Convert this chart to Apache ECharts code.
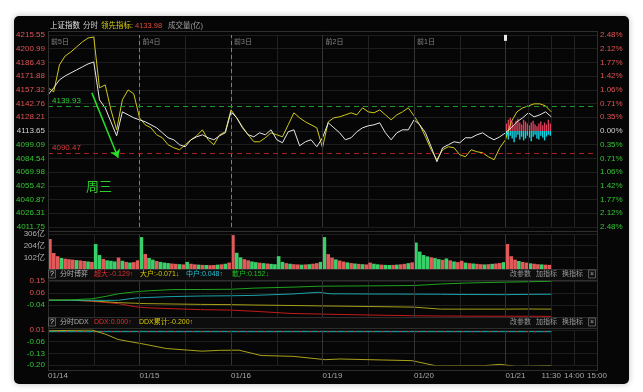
<!DOCTYPE html>
<html><head><meta charset="utf-8">
<script src="https://cdn.jsdelivr.net/npm/echarts@6/dist/echarts.min.js"></script>
<style>html,body{margin:0;padding:0;background:#fff;}#c{width:643px;height:392px;}</style>
</head><body><div id="c"></div>
<script>
// ---------- data ----------
const priceLabels = ['4011.75','4026.31','4040.87','4055.42','4069.98','4084.54','4099.09','4113.65','4128.21','4142.76','4157.32','4171.88','4186.43','4200.99','4215.55'];
const pctLabels = ['2.48%','2.12%','1.77%','1.42%','1.06%','0.71%','0.35%','0.00%','0.35%','0.71%','1.06%','1.42%','1.77%','2.12%','2.48%'];
const priceMin = 4011.75, priceMax = 4215.55, prevClose = 4113.65;
const resistLevel = 4139.93, supportLevel = 4090.47;
const leadNow = '4133.98';
const dayTags = ['前5日','前4日','前3日','前2日','前1日'];
const dateLabels = ['01/14','01/15','01/16','01/19','01/20','01/21'];
const timeLabels = ['11:30','14:00','15:00'];

const mainTimes = [0,15,30,45,60,75,90,105,120,135,150,165,180,195,210,225,
 240,255,270,285,300,315,330,345,360,375,390,405,420,435,450,465,
 480,495,510,525,540,555,570,585,600,615,630,645,660,675,690,705,
 720,735,750,765,780,795,810,825,840,855,870,885,900,915,930,945,
 960,975,990,1005,1020,1035,1050,1065,1080,1095,1110,1125,1140,1155,1170,1185,
 1200,1215,1230,1245,1260,1275,1290,1305,1320];
const priceLine = [
 4152.00,4159.41,4167.89,4172.12,4175.30,4178.48,4181.66,4184.83,4186.95,4146.70,4138.23,4123.40,4108.57,4133.99,4130.81,4127.63,
 4125.51,4123.40,4120.22,4117.04,4111.74,4106.45,4104.33,4099.03,4096.91,4104.33,4107.51,4109.62,4106.45,4104.33,4108.57,4111.74,
 4133.99,4127.63,4117.04,4109.62,4107.51,4111.74,4109.62,4114.92,4104.33,4101.15,4112.80,4114.92,4097.97,4102.21,4104.33,4096.91,
 4106.45,4122.34,4117.04,4111.74,4104.33,4106.45,4112.80,4117.04,4119.16,4120.22,4122.34,4111.74,4104.33,4111.74,4114.92,4114.92,
 4125.51,4120.22,4111.74,4096.91,4081.02,4095.85,4099.03,4102.21,4101.15,4106.45,4106.45,4109.62,4111.74,4107.51,4104.33,4107.51,
 4111.74,4117.04,4123.40,4127.63,4132.93,4128.69,4130.81,4133.99,4128.69];
const leadLine = [
 4159.41,4155.17,4183.78,4193.31,4197.55,4202.84,4208.14,4212.38,4213.44,4159.41,4162.59,4136.11,4114.92,4146.70,4157.29,4153.06,
 4127.63,4120.22,4117.04,4109.62,4106.45,4099.03,4095.85,4093.74,4099.03,4104.33,4108.57,4114.92,4104.33,4099.03,4109.62,4112.80,
 4136.11,4127.63,4118.10,4109.62,4102.21,4102.21,4106.45,4111.74,4109.62,4107.51,4120.22,4132.93,4127.63,4123.40,4120.22,4117.04,
 4095.85,4123.40,4127.63,4128.69,4130.81,4132.93,4130.81,4138.23,4133.99,4132.93,4136.11,4130.81,4125.51,4130.81,4133.99,4138.23,
 4129.75,4120.22,4107.51,4093.74,4083.14,4093.74,4096.91,4095.85,4088.44,4086.32,4093.74,4091.62,4090.56,4086.32,4083.14,4095.85,
 4104.33,4123.40,4133.99,4138.23,4140.34,4142.46,4142.46,4140.34,4133.98];
// today's red / cyan histogram (5-minute bars, points from prev close)
const todayRed  = [8,12,14,10,6,11,13,9,7,12,10,8,6,9,11,7,5,8,10,6,9,7,12,8];
const todayCyan = [-6,-9,-5,-8,-12,-7,-4,-9,-6,-10,-8,-5,-7,-11,-6,-4,-8,-9,-5,-7,-10,-6,-4,-5];

// volume (亿), 10-minute bars per day; r = up, g = down
const volDays = [
 [262,140,112,96,90,86,82,78,75,70,66,62, 218,122,88,76,72,66,100,72,62,56,60,76],
 [279,132,96,82,70,62,56,52,48,45,42,40, 62,46,41,38,36,35,33,35,38,41,46,56],
 [296,142,102,86,76,66,60,55,51,48,45,42, 112,62,51,46,42,40,38,40,42,46,51,62],
 [279,130,100,84,74,65,58,52,48,45,42,40, 56,46,41,38,36,35,36,38,41,45,51,58],
 [231,152,122,110,102,95,86,80,92,76,66,60, 72,56,51,48,45,42,40,42,45,48,52,60],
 [218,112,82,70,62,56,50,46,42,40,38,36]];
const volDirs = ['rrrgrrrgrrgrggrgggrgrgrr','grggrgggrrgrgrrgrgrrgrgr','rggrrggrgrggggrgrrgrgrrg',
 'grrgrrgrgrgrrggrggrgrrgr','ggggrggrgrgrrgrgrrgrgrrg','rrrgrrgrrgrr'];

// 分时博弈
const gameTimes = [0,60,115,150,185,230,260,330,400,480,540,640,710,740,840,960,1030,1100,1200,1260,1320];
const gameSuper = [0,0,-0.008,-0.018,-0.027,-0.053,-0.060,-0.068,-0.075,-0.079,-0.088,-0.106,-0.110,-0.112,-0.118,-0.124,-0.126,-0.127,-0.128,-0.128,-0.129];
const gameBig   = [0,0,-0.005,-0.012,-0.019,-0.024,-0.027,-0.030,-0.033,-0.035,-0.038,-0.042,-0.045,-0.046,-0.050,-0.055,-0.071,-0.071,-0.071,-0.070,-0.071];
const gameMid   = [0,0,0,-0.001,0,0.018,0.022,0.030,0.034,0.036,0.039,0.050,0.064,0.052,0.050,0.049,0.048,0.046,0.045,0.047,0.048];
const gameSmall = [0,0.003,0.012,0.030,0.052,0.068,0.075,0.086,0.086,0.088,0.097,0.105,0.112,0.113,0.115,0.118,0.130,0.138,0.145,0.148,0.152];

// 分时DDX
const ddxTimes = [0,60,115,152,184,257,310,404,450,501,559,643,727,766,880,955,1018,1100,1144,1186,1228,1320];
const ddxCum   = [0.005,0.008,0.010,-0.016,-0.047,-0.077,-0.101,-0.117,-0.112,-0.111,-0.143,-0.148,-0.168,-0.164,-0.170,-0.174,-0.205,-0.204,-0.204,-0.196,-0.208,-0.203];
const ddxNow   = [0,0];
const ddxNowTimes = [0,1320];

// ---------- build ----------
const F = "'Liberation Sans','Noto Sans CJK SC',sans-serif";
const GRID = '#222';
const RED = '#e05555', GREEN = '#35c535';
const zip = (a, b) => a.map((v, i) => [v, b[i]]);
const priceStep = (priceMax - priceMin) / 14;
const pIdx = v => Math.round((v - priceMin) / priceStep);
const cls = i => i > 7 ? 'r' : (i < 7 ? 'g' : 'w');
const richLbl = {r:{color:RED,fontSize:8,fontFamily:F}, g:{color:GREEN,fontSize:8,fontFamily:F}, w:{color:'#d0d0d0',fontSize:8,fontFamily:F}, n:{color:'#b0b0b0',fontSize:8,fontFamily:F}};

const volData = [];
volDays.forEach((arr, d) => arr.forEach((v, k) => {
  volData.push({value:[d*240 + 5 + 10*k, v], itemStyle:{color: volDirs[d][k] === 'r' ? '#e2595a' : '#39d06a'}});
}));
const redData = todayRed.map((v, k) => [1200 + 2.5 + 5*k, v]);
const cyanData = todayCyan.map((v, k) => [1200 + 2.5 + 5*k, v]);

const boundLines = (withOrange) => {
  const arr = [];
  [240, 480].forEach(x => arr.push({xAxis:x, lineStyle: withOrange ? {color:'#c8683a', type:[4,3], width:1} : {color:'#333', type:'solid', width:1}}));
  [720, 960, 1200].forEach(x => arr.push({xAxis:x, lineStyle:{color:'#343434', type:'solid', width:1}}));
  [1260, 1380].forEach(x => arr.push({xAxis:x, lineStyle:{color:GRID, type:'solid', width:1}}));
  return arr;
};

const xBase = (g) => ({gridIndex:g, type:'value', min:0, max:1440, interval:120,
  axisLine:{show:false}, axisTick:{show:false}, axisLabel:{show:false},
  splitLine:{show:true, lineStyle:{color:GRID}}});

const option = {
  backgroundColor:'#ffffff',
  animation:false,
  grid:[
    {left:48, right:46, top:35, height:192},
    {left:48, right:46, top:234, height:35},
    {left:48, right:46, top:281, height:36},
    {left:48, right:46, top:330, height:35}
  ],
  xAxis:[
    Object.assign(xBase(0), {position:'top', axisLabel:{show:true, inside:true, customValues:[0,240,480,720,960],
      formatter: v => dayTags[Math.round(v/240)], color:'#858585', fontSize:7, fontFamily:F, align:'left', margin:4, padding:[0,0,0,3]}}),
    xBase(1), xBase(2),
    Object.assign(xBase(3), {position:'bottom', axisLabel:{show:true, customValues:[0,240,480,720,960,1200],
      formatter: v => dateLabels[Math.round(v/240)], color:'#a8a8a8', fontSize:8, fontFamily:F, align:'left', margin:7}}),
    {gridIndex:3, type:'value', min:0, max:1440, position:'bottom', axisLine:{show:false}, axisTick:{show:false}, splitLine:{show:false},
      axisLabel:{show:true, customValues:[1320,1380,1440], formatter: v => timeLabels[Math.round((v-1320)/60)], color:'#a8a8a8', fontSize:8, fontFamily:F, align:'center', margin:7}}
  ],
  yAxis:[
    {gridIndex:0, type:'value', min:priceMin, max:priceMax, interval:priceStep, position:'left',
      axisLine:{show:false}, axisTick:{show:false},
      axisLabel:{margin:3, formatter: v => { const i = pIdx(v); return '{' + cls(i) + '|' + priceLabels[i] + '}'; }, rich:richLbl},
      splitLine:{show:true, lineStyle:{color:'#1d1d1d'}}},
    {gridIndex:0, type:'value', min:priceMin, max:priceMax, interval:priceStep, position:'right',
      axisLine:{show:false}, axisTick:{show:false}, splitLine:{show:false},
      axisLabel:{margin:3, formatter: v => { const i = pIdx(v); return '{' + cls(i) + '|' + pctLabels[i] + '}'; }, rich:richLbl}},
    {gridIndex:0, type:'value', min:priceMin - prevClose, max:priceMax - prevClose, show:false},
    {gridIndex:1, type:'value', min:0, max:306, interval:102, axisLine:{show:false}, axisTick:{show:false},
      axisLabel:{showMinLabel:false, margin:3, formatter: v => '{n|' + v + '亿}', rich:richLbl},
      splitLine:{show:true, lineStyle:{color:'#1d1d1d'}}},
    {gridIndex:2, type:'value', min:-0.134, max:0.154, interval:0.096, axisLine:{show:false}, axisTick:{show:false},
      axisLabel:{showMinLabel:false, margin:3, formatter: v => '{' + (v > 0 ? 'r' : 'g') + '|' + v.toFixed(2) + '}', rich:richLbl},
      splitLine:{show:true, lineStyle:{color:'#1d1d1d'}}},
    {gridIndex:3, type:'value', min:-0.20, max:0.01, interval:0.07, axisLine:{show:false}, axisTick:{show:false},
      axisLabel:{margin:3, formatter: v => '{' + (v > 0 ? 'r' : 'g') + '|' + v.toFixed(2) + '}', rich:richLbl},
      splitLine:{show:true, lineStyle:{color:'#1d1d1d'}}}
  ],
  series:[
    {type:'line', name:'上证指数', xAxisIndex:0, yAxisIndex:0, data:zip(mainTimes, priceLine), showSymbol:false,
      lineStyle:{color:'#e6e6e6', width:1}, z:4,
      markLine:{silent:true, symbol:'none', animation:false, data:[
        ...boundLines(true),
        {yAxis:resistLevel, lineStyle:{color:'#1f9a2a', type:[5,4], width:1},
          label:{show:true, position:'insideStartTop', formatter:resistLevel.toFixed(2), color:'#2fd03a', fontSize:8, fontFamily:F, distance:[4,1]}},
        {yAxis:supportLevel, lineStyle:{color:'#a82020', type:[5,4], width:1},
          label:{show:true, position:'insideStartTop', formatter:supportLevel.toFixed(2), color:'#e03a3a', fontSize:8, fontFamily:F, distance:[4,1]}},
        [{coord:[115, 4154.1], symbol:'none'}, {coord:[184, 4085.3], symbol:'arrow', symbolSize:8,
          lineStyle:{color:'#27e027', type:'solid', width:1.5}}]
      ], label:{show:false}},
      markPoint:{silent:true, data:[
        {coord:[134, 4053.5], symbol:'rect', symbolSize:[1,1], itemStyle:{color:'rgba(0,0,0,0)'},
          label:{show:true, position:'inside', formatter:'周三', color:'#2bd02b', fontSize:13, fontFamily:F}},
        {coord:[1200, 4212.5], symbol:'rect', symbolSize:[3,6], itemStyle:{color:'#e8e8e8'}, label:{show:false}}
      ]}},
    {type:'line', name:'领先指标', xAxisIndex:0, yAxisIndex:0, data:zip(mainTimes, leadLine), showSymbol:false,
      lineStyle:{color:'#d0c81a', width:1}, z:3},
    {type:'bar', xAxisIndex:0, yAxisIndex:2, data:redData, barWidth:1.4, barGap:'-100%', itemStyle:{color:'#d8415a'}, z:2},
    {type:'bar', xAxisIndex:0, yAxisIndex:2, data:cyanData, barWidth:1.4, barGap:'-100%', itemStyle:{color:'#12d4e4'}, z:2},
    {type:'bar', name:'成交量', xAxisIndex:1, yAxisIndex:3, data:volData, barWidth:3.6,
      markLine:{silent:true, symbol:'none', label:{show:false}, data:boundLines(false)}},
    {type:'line', name:'超大', xAxisIndex:2, yAxisIndex:4, data:zip(gameTimes, gameSuper), showSymbol:false, lineStyle:{color:'#c01c1c', width:1},
      markLine:{silent:true, symbol:'none', label:{show:false}, data:boundLines(false)}},
    {type:'line', name:'大户', xAxisIndex:2, yAxisIndex:4, data:zip(gameTimes, gameBig), showSymbol:false, lineStyle:{color:'#a6a018', width:1}},
    {type:'line', name:'中户', xAxisIndex:2, yAxisIndex:4, data:zip(gameTimes, gameMid), showSymbol:false, lineStyle:{color:'#1aa2aa', width:1}},
    {type:'line', name:'散户', xAxisIndex:2, yAxisIndex:4, data:zip(gameTimes, gameSmall), showSymbol:false, lineStyle:{color:'#1fa21f', width:1}},
    {type:'line', name:'DDX', xAxisIndex:3, yAxisIndex:5, data:zip(ddxNowTimes, ddxNow), showSymbol:false, lineStyle:{color:'#1cb0b8', width:1},
      markLine:{silent:true, symbol:'none', label:{show:false}, data:boundLines(false)}},
    {type:'line', xAxisIndex:3, yAxisIndex:5, data:zip(ddxNowTimes, ddxNow), showSymbol:false, lineStyle:{color:'#d42020', width:1, type:[2,7]}},
    {type:'line', name:'DDX累计', xAxisIndex:3, yAxisIndex:5, data:zip(ddxTimes, ddxCum), showSymbol:false, lineStyle:{color:'#aaa21c', width:1}}
  ]
};

// ---------- frame / headers (layout only) ----------
const T = (x, y, text, color, size, align) => ({type:'text', x:x, y:y, z:30, silent:true,
  style:{text:text, fill:color, font:(size||7.5) + 'px ' + F, align:align||'left', verticalAlign:'middle', textVerticalAlign:'middle'}});
const L = (x1, y1, x2, y2, c) => ({type:'line', z:25, silent:true, shape:{x1:x1, y1:y1, x2:x2, y2:y2}, style:{stroke:c||'#2e2e2e', lineWidth:1}});
const R = (x, y, w, h, fill, stroke, z) => ({type:'rect', z:z, silent:true, shape:{x:x, y:y, width:w, height:h}, style:{fill:fill, stroke:stroke||null, lineWidth:1}});
const boxQ = (y) => [R(48.5, y-4.5, 7, 8, '#111', '#5a5a5a', 28), T(52, y, '?', '#e0e0e0', 7, 'center')];
const rightTools = (y) => [T(510, y, '改参数', '#9a9a9a', 7), T(536, y, '加指标', '#9a9a9a', 7), T(562, y, '换指标', '#9a9a9a', 7),
  R(588.5, y-4.5, 7, 8, '#111', '#5a5a5a', 28), T(592, y, '×', '#aaa', 7, 'center')];

option.graphic = {elements:[
  {type:'rect', z:-10, silent:true, shape:{x:14, y:16, width:615, height:368, r:5},
    style:{fill:'#060606', shadowBlur:6, shadowColor:'rgba(0,0,0,0.25)'}},
  R(48, 269, 549, 11, '#0d0d0d', null, 20),
  R(48, 317, 549, 11, '#0d0d0d', null, 20),
  L(48, 31.5, 597, 31.5), L(48, 231.5, 597, 231.5), L(48, 269.5, 597, 269.5), L(48, 280.5, 597, 280.5),
  L(48, 317.5, 597, 317.5), L(48, 328.5, 597, 328.5), L(48, 370.5, 597, 370.5),
  L(48.5, 31, 48.5, 371), L(597.5, 31, 597.5, 371),
  T(50, 26, '上证指数', '#e0e0e0', 7.5), T(83, 26, '分时', '#cfcfcf', 7.5),
  T(101, 26, '领先指标:', '#d8cc10', 7.5), T(135, 26, leadNow, '#e24a3a', 7.5), T(168, 26, '成交量(亿)', '#a0a0a0', 7.5),
  ...boxQ(274.5), T(60, 274.5, '分时博弈', '#b0b0b0', 7),
  T(94, 274.5, '超大:-0.129↑', '#e23030', 7), T(140, 274.5, '大户:-0.071↓', '#d8c800', 7),
  T(186, 274.5, '中户:0.048↑', '#22c0d0', 7), T(232, 274.5, '散户:0.152↓', '#22c022', 7),
  ...rightTools(274.5),
  ...boxQ(322.5), T(60, 322.5, '分时DDX', '#b0b0b0', 7),
  T(94, 322.5, 'DDX:0.000↑', '#e23030', 7), T(139, 322.5, 'DDX累计:-0.200↑', '#d8c800', 7),
  ...rightTools(322.5)
]};

const chart = echarts.init(document.getElementById('c'), null, {renderer:'canvas'});
chart.setOption(option);
</script>
</body></html>
